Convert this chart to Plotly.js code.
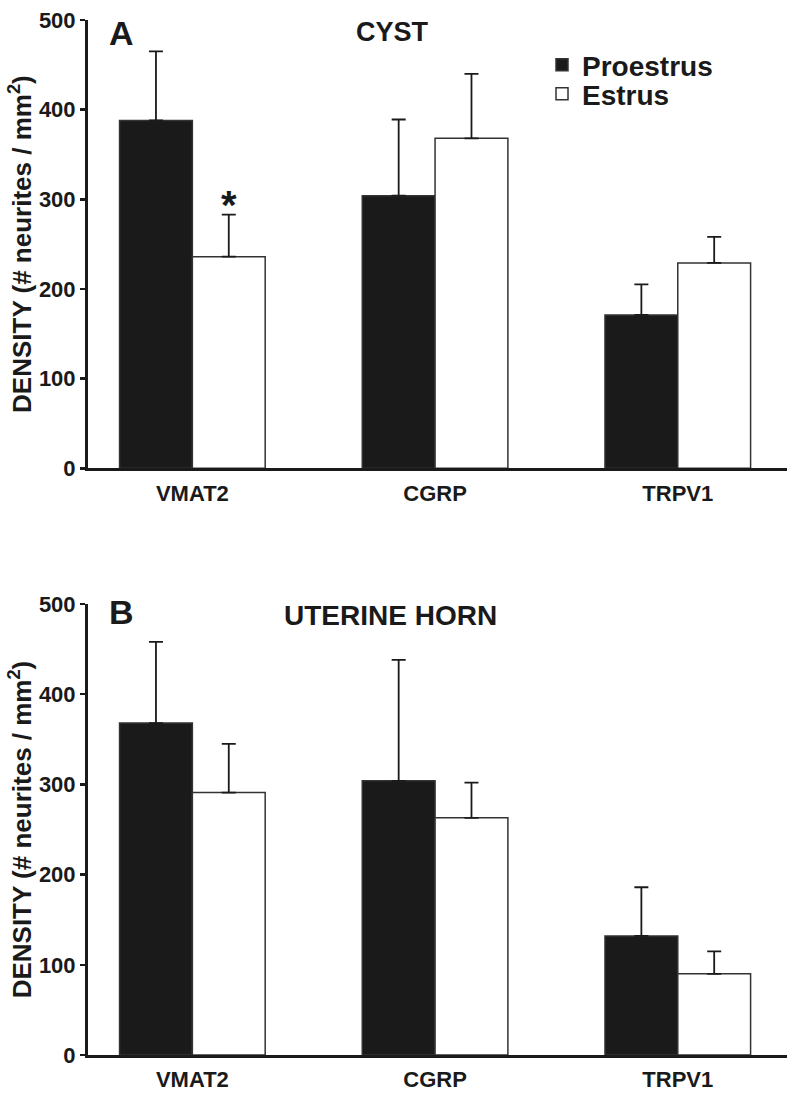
<!DOCTYPE html>
<html>
<head>
<meta charset="utf-8">
<script src="https://cdn.plot.ly/plotly-3.0.1.min.js"></script>
<style>html,body{margin:0;padding:0;background:#fff;}#chart{width:800px;height:1096px;}</style>
</head>
<body>
<div id="chart"></div>
<script>
// ---- data ----
const categories = ["VMAT2", "CGRP", "TRPV1"];
const seriesNames = ["Proestrus", "Estrus"];
// Panel A: CYST
const cystProestrus = [388, 304, 171];
const cystProestrusErr = [77, 85, 34];
const cystEstrus = [236, 368, 229];
const cystEstrusErr = [47, 72, 29];
// Panel B: UTERINE HORN
const hornProestrus = [368, 304, 132];
const hornProestrusErr = [90, 134, 54];
const hornEstrus = [291, 263, 90];
const hornEstrusErr = [54, 39, 25];
const yTicks = [0, 100, 200, 300, 400, 500];
const panelTitles = ["CYST", "UTERINE HORN"];
const panelLetters = ["A", "B"];
const yTitle = "DENSITY (# neurites / mm<sup>2</sup>)";

// ---- styles ----
const FONT = "Liberation Sans, Arial, Helvetica, sans-serif";
const INK = "#1a1a1a";
const errStyle = (arr) => ({type: "data", array: arr, arrayminus: arr.map(() => 0), symmetric: false,
  color: INK, thickness: 1.8, width: 7});

function barTrace(name, y, err, xa, ya, fill, showlegend, legend) {
  return {
    type: "bar", name: name, x: categories, y: y, xaxis: xa, yaxis: ya,
    marker: {color: fill, line: {color: "#333", width: 1.5}},
    error_y: errStyle(err), showlegend: showlegend, legend: legend, hoverinfo: "x+y"
  };
}

const data = [
  barTrace(seriesNames[0], cystProestrus, cystProestrusErr, "x", "y", INK, true, "legend"),
  barTrace(seriesNames[1], cystEstrus, cystEstrusErr, "x", "y", "#ffffff", true, "legend2"),
  barTrace(seriesNames[0], hornProestrus, hornProestrusErr, "x2", "y2", INK, false, "legend"),
  barTrace(seriesNames[1], hornEstrus, hornEstrusErr, "x2", "y2", "#ffffff", false, "legend2")
];

const tickFont = {family: FONT, size: 22, color: INK, weight: 700};
function xAxis(anchor) {
  return {anchor: anchor, domain: [0, 1], range: [-0.43, 2.45], type: "category",
    showline: true, linecolor: INK, linewidth: 3, ticks: "", showgrid: false, zeroline: false,
    tickfont: tickFont, ticklabelstandoff: 3, fixedrange: true};
}
function yAxis(anchor, domain) {
  return {anchor: anchor, domain: domain, range: [0, 500], tickvals: yTicks,
    showline: true, linecolor: INK, linewidth: 3, ticks: "outside", ticklen: 5, tickwidth: 2.5, tickcolor: INK,
    showgrid: false, zeroline: false, tickfont: tickFont,
    title: {text: yTitle, font: {family: FONT, size: 26, color: INK, weight: 700}, standoff: 0}, fixedrange: true};
}

const legendBase = {bgcolor: "rgba(0,0,0,0)", borderwidth: 0, font: {family: FONT, size: 28, color: INK, weight: 700},
  xanchor: "left", yanchor: "middle", itemclick: false, itemdoubleclick: false};

const annFont = (s) => ({family: FONT, size: s, color: INK, weight: 700});
const layout = {
  width: 800, height: 1096,
  margin: {l: 88, r: 13, t: 20, b: 41},
  paper_bgcolor: "#fff", plot_bgcolor: "#fff",
  barmode: "group", bargap: 0.4, bargroupgap: 0,
  xaxis: xAxis("y"), yaxis: yAxis("x", [0.5669, 1]),
  xaxis2: xAxis("y2"), yaxis2: yAxis("x2", [0, 0.4357]),
  legend: Object.assign({}, legendBase, {x: 0.6495, y: 0.9565}),
  legend2: Object.assign({}, legendBase, {x: 0.6495, y: 0.9285}),
  annotations: [
    {xref: "paper", yref: "paper", x: 0.048, y: 0.9874, xanchor: "center", yanchor: "middle", text: panelLetters[0], showarrow: false, font: annFont(34)},
    {xref: "paper", yref: "paper", x: 0.4356, y: 0.9884, xanchor: "center", yanchor: "middle", text: panelTitles[0], showarrow: false, font: annFont(27)},
    {xref: "paper", yref: "paper", x: 0.048, y: 0.428, xanchor: "center", yanchor: "middle", text: panelLetters[1], showarrow: false, font: annFont(34)},
    {xref: "paper", yref: "paper", x: 0.4333, y: 0.4251, xanchor: "center", yanchor: "middle", text: panelTitles[1], showarrow: false, font: annFont(28)},
    {xref: "x", yref: "y", x: 0.15, y: cystEstrus[0] + cystEstrusErr[0], xanchor: "center", yanchor: "bottom", yshift: -14,
     text: "*", showarrow: false, font: annFont(40)}
  ]
};

Plotly.newPlot("chart", data, layout, {staticPlot: true, displayModeBar: false});
</script>
</body>
</html>
